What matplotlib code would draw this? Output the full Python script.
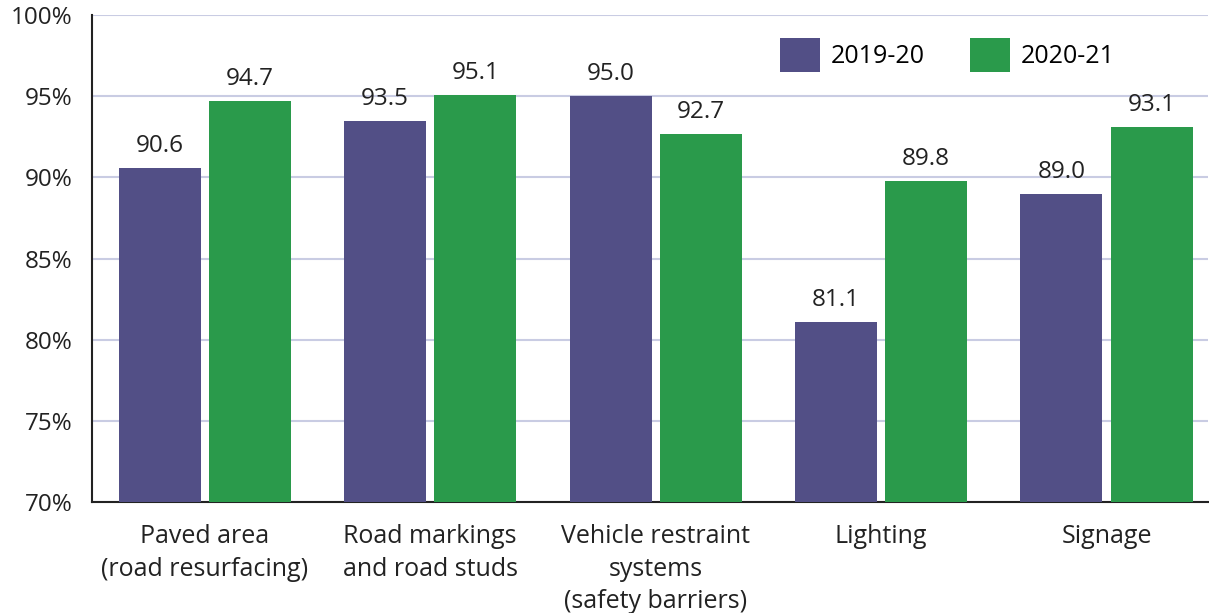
import numpy as np
import matplotlib.pyplot as plt

categories = ["Paved area\n(road resurfacing)", "Road markings\nand road studs",
              "Vehicle restraint\nsystems\n(safety barriers)", "Lighting", "Signage"]
series_names = ["2019-20", "2020-21"]
values_1920 = [90.6, 93.5, 95.0, 81.1, 89.0]
values_2021 = [94.7, 95.1, 92.7, 89.8, 93.1]
yticks = [70, 75, 80, 85, 90, 95, 100]

plt.rcParams['font.family'] = ['Open Sans', 'DejaVu Sans']

purple = "#524F86"
green = "#2A9A4B"
txt = '#222222'

fig = plt.figure(figsize=(12.09, 6.13), dpi=100)
ax = fig.add_axes([92/1209, 1 - 502/613, 1116/1209, 487/613])

x = np.arange(len(categories))
w = 0.364
off = 0.2
ax.bar(x - off, [v - 70 for v in values_1920], w, bottom=70, color=purple, label=series_names[0], zorder=3)
ax.bar(x + off, [v - 70 for v in values_2021], w, bottom=70, color=green, label=series_names[1], zorder=3)

for xi, v in zip(x - off, values_1920):
    ax.text(xi, v + 0.6, f"{v:.1f}", ha='center', va='bottom', fontsize=17.5, color=txt)
for xi, v in zip(x + off, values_2021):
    ax.text(xi, v + 0.6, f"{v:.1f}", ha='center', va='bottom', fontsize=17.5, color=txt)

ax.set_xlim(-0.5, 4.45)
ax.set_ylim(70, 100)
ax.set_yticks(yticks)
ax.set_yticklabels([f"{t}%" for t in yticks], fontsize=17.5, color=txt)
ax.set_xticks(x)
ax.set_xticklabels(categories, fontsize=18, color=txt, linespacing=1.4)
ax.tick_params(axis='x', length=0, pad=16)
ax.tick_params(axis='y', length=0, pad=14)
ax.grid(axis='y', color='#C9CCE3', linewidth=1.5, zorder=0)
for s in ['top', 'right']:
    ax.spines[s].set_visible(False)
for s in ['left', 'bottom']:
    ax.spines[s].set_color(txt)
    ax.spines[s].set_linewidth(1.5)

ax.legend(loc='upper right', bbox_to_anchor=(0.937, 1.0), ncol=2, frameon=False,
          fontsize=18, handlelength=1.6, handleheight=1.75, columnspacing=1.8,
          handletextpad=0.45)

fig.savefig("out.png", dpi=100)
